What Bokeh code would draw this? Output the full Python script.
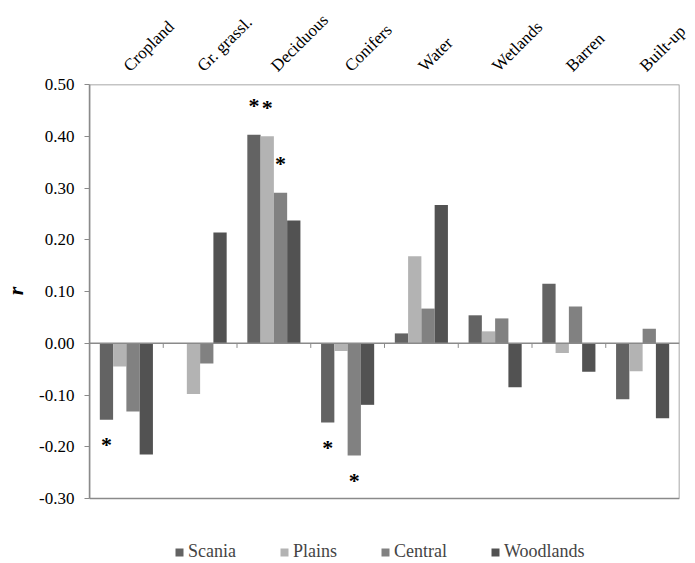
from bokeh.plotting import figure
from bokeh.models import (Range1d, FixedTicker, PrintfTickFormatter, Span, Legend,
                          LegendItem, ColumnDataSource)
from bokeh.transform import dodge
from bokeh.core.properties import value
from bokeh.embed import file_html
from bokeh.resources import INLINE
import math

# ---- data ----
categories = ["Cropland", "Gr. grassl.", "Deciduous", "Conifers", "Water", "Wetlands", "Barren", "Built-up"]
series_names = ["Scania", "Plains", "Central", "Woodlands"]
scania    = [-0.148, 0.000, 0.403, -0.153, 0.019, 0.054, 0.115, -0.108]
plains    = [-0.045, -0.098, 0.400, -0.015, 0.168, 0.023, -0.019, -0.054]
central   = [-0.132, -0.039, 0.291, -0.217, 0.067, 0.048, 0.071, 0.028]
woodlands = [-0.215, 0.214, 0.237, -0.119, 0.267, -0.085, -0.055, -0.145]
# significance markers (1 = "*")
sig_scania    = [1, 0, 1, 1, 0, 0, 0, 0]
sig_plains    = [0, 0, 1, 0, 0, 0, 0, 0]
sig_central   = [0, 0, 1, 1, 0, 0, 0, 0]
sig_woodlands = [0, 0, 0, 0, 0, 0, 0, 0]
y_ticks = [-0.30, -0.20, -0.10, 0.00, 0.10, 0.20, 0.30, 0.40, 0.50]

colors = ["#636363", "#b3b3b3", "#818181", "#525252"]
offsets = [-0.27, -0.09, 0.09, 0.27]
FONT = "Liberation Serif"
GRAY = "#8a8a8a"

# plot box spans y_ticks[0]..y_ticks[-1] over 414 px; the frame continues below
# it (65 px) to hold the legend
PLOT_PX, LEGEND_PX = 414, 65
units_per_px = (y_ticks[-1] - y_ticks[0]) / PLOT_PX
y_start = y_ticks[0] - LEGEND_PX * units_per_px

p = figure(x_range=categories, y_range=Range1d(y_start, y_ticks[-1]),
           frame_width=590, frame_height=PLOT_PX + LEGEND_PX, title=None,
           output_backend="svg", toolbar_location=None, x_axis_location="above",
           min_border_left=84, min_border_right=13, min_border_top=70, min_border_bottom=0)
p.xgrid.visible = False
p.ygrid.visible = False
p.outline_line_color = None
p.background_fill_color = "white"
p.border_fill_color = "white"

# plot-area box
box = ColumnDataSource(dict(lcat=[categories[0]], rcat=[categories[-1]],
                            b=[y_ticks[0]], t=[y_ticks[-1]]))
p.quad(left=dodge("lcat", -0.5, range=p.x_range), right=dodge("rcat", 0.5, range=p.x_range),
       bottom="b", top="t", source=box, fill_color=None, line_color=GRAY, line_width=1.5)

all_vals = [scania, plains, central, woodlands]
all_sig = [sig_scania, sig_plains, sig_central, sig_woodlands]
renderers = []
for name, vals, sig, col, off in zip(series_names, all_vals, all_sig, colors, offsets):
    src = ColumnDataSource(dict(cat=categories, val=vals))
    r = p.vbar(x=dodge("cat", off, range=p.x_range), top="val", bottom=0, width=0.18,
               source=src, fill_color=col, line_color=None)
    renderers.append((name, r))
    pos_c = [c for c, v, s in zip(categories, vals, sig) if s and v >= 0]
    pos_v = [v for v, s in zip(vals, sig) if s and v >= 0]
    neg_c = [c for c, v, s in zip(categories, vals, sig) if s and v < 0]
    neg_v = [v for v, s in zip(vals, sig) if s and v < 0]
    if pos_c:
        s2 = ColumnDataSource(dict(cat=pos_c, val=pos_v))
        p.text(x=dodge("cat", off, range=p.x_range), y="val", text=value("*"), source=s2,
               text_font=value(FONT), text_font_size="22px", text_font_style="bold",
               text_align="center", text_baseline="middle", y_offset=-29, text_color="black")
    if neg_c:
        s3 = ColumnDataSource(dict(cat=neg_c, val=neg_v))
        p.text(x=dodge("cat", off, range=p.x_range), y="val", text=value("*"), source=s3,
               text_font=value(FONT), text_font_size="22px", text_font_style="bold",
               text_align="center", text_baseline="middle", y_offset=25, text_color="black")

# zero line with category-boundary tick marks
p.add_layout(Span(location=0, dimension="width", line_color=GRAY, line_width=1.5))
bsrc = ColumnDataSource(dict(cat=categories[:-1], y0=[0.0] * 7, y1=[-0.009] * 7))
p.segment(x0=dodge("cat", 0.5, range=p.x_range), x1=dodge("cat", 0.5, range=p.x_range),
          y0="y0", y1="y1", source=bsrc, line_color=GRAY, line_width=1)

# top category axis
xa = p.xaxis[0]
xa.axis_line_color = None
xa.major_tick_line_color = None
xa.minor_tick_line_color = None
xa.major_label_orientation = math.pi / 4
xa.major_label_text_font = FONT
xa.major_label_text_font_size = "17px"
xa.major_label_text_color = "black"
xa.major_label_standoff = 10

# left value axis (limited to the plot box)
ya = p.yaxis[0]
ya.bounds = (y_ticks[0], y_ticks[-1])
ya.ticker = FixedTicker(ticks=y_ticks)
ya.formatter = PrintfTickFormatter(format="%.2f")
ya.axis_line_color = GRAY
ya.axis_line_width = 1.5
ya.major_tick_line_color = GRAY
ya.major_tick_out = 5
ya.major_tick_in = 0
ya.minor_tick_line_color = None
ya.major_label_text_font = FONT
ya.major_label_text_font_size = "17px"
ya.major_label_text_color = "black"
ya.major_label_standoff = 10
# leading no-break spaces shift the centred "r" up to the middle of the plot box
ya.axis_label = "\u00a0" * 12 + "r"
ya.axis_label_text_font = FONT
ya.axis_label_text_font_size = "22px"
ya.axis_label_text_font_style = "bold italic"
ya.axis_label_text_color = "black"
ya.axis_label_standoff = 8

legend = Legend(items=[LegendItem(label=n, renderers=[r]) for n, r in renderers],
                orientation="horizontal", location=(85, 1), margin=0,
                glyph_width=10, glyph_height=10, label_standoff=4, spacing=43,
                label_text_font=FONT, label_text_font_size="18px",
                border_line_color=None, background_fill_alpha=0, padding=4)
p.add_layout(legend, "center")

open("out.html", "w").write(file_html(p, INLINE))
